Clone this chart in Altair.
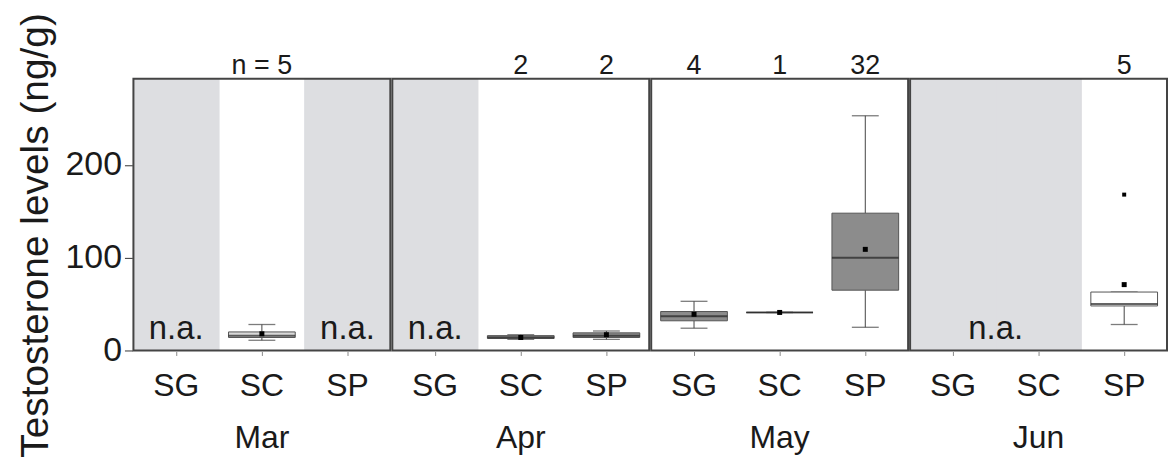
import altair as alt
import pandas as pd

# ---- data ----
months = ["Mar", "Apr", "May", "Jun"]
cats = ["SG", "SC", "SP"]

# cells that have data (month, category)
box_month = ["Mar", "Apr", "Apr", "May", "May", "May", "Jun"]
box_cat = ["SC", "SC", "SP", "SG", "SC", "SP", "SP"]
box_n = [5, 2, 2, 4, 1, 32, 5]
box_lo = [11, 12, 12, 24, 41, 25, 28]
box_q1 = [14, 13, 14, 32, 41, 65, 48]
box_med = [16, 14, 16, 37, 41, 100, 50]
box_q3 = [20, 16, 19, 42, 41, 148, 63]
box_hi = [28, 17, 21, 53, 41, 253, 63]
box_mean = [18, 14, 17, 39, 41, 109, 71]
box_shade = ["light", "dark", "dark", "dark", "dark", "dark", "white"]

# outliers
out_month = ["Jun"]
out_cat = ["SP"]
out_value = [168]

# cells without data ("n.a.")
na_month = ["Mar", "Mar", "Apr", "Jun", "Jun"]
na_cat = ["SG", "SP", "SG", "SG", "SC"]
na_label = ["n.a.", "n.a.", "n.a.", "", ""]
na_label_wide = ["", "", "", "n.a.", ""]   # label centred over two cells

Y_MAX = 293
Y_TITLE = "Testosterone levels (ng/g)"
FONT = "Liberation Sans"

rows = []
for i in range(len(box_month)):
    rows.append(dict(kind="box", month=box_month[i], cat=box_cat[i],
                     lo=box_lo[i], q1=box_q1[i], med=box_med[i], q3=box_q3[i],
                     hi=box_hi[i], mean=box_mean[i], shade=box_shade[i],
                     nlab=("n = %d" % box_n[i]) if i == 0 else str(box_n[i])))
for i in range(len(out_month)):
    rows.append(dict(kind="outlier", month=out_month[i], cat=out_cat[i], value=out_value[i]))
for i in range(len(na_month)):
    rows.append(dict(kind="na", month=na_month[i], cat=na_cat[i],
                     nalab=na_label[i], nawide=na_label_wide[i]))
for m in months:
    rows.append(dict(kind="frame", month=m, cat="SG"))
df = pd.DataFrame(rows)

W, H = 258, 273
BAND = W / 3
BOX_W = 67
CAP_W = 27

yscale = alt.Scale(domain=[0, Y_MAX], nice=False, zero=True)
yaxis = alt.Axis(values=[0, 100, 200], grid=False, domain=False, tickSize=8,
                 tickColor="#333", labelFontSize=34, labelPadding=3,
                 labelColor="#1a1a1a", labelFont=FONT, titleFont=FONT,
                 titleFontSize=39, titleFontWeight="normal", titleColor="#1a1a1a",
                 titlePadding=10, titleY=157)


def Y(field):
    return alt.Y(field, type="quantitative", scale=yscale, axis=yaxis, title=Y_TITLE)


X = alt.X("cat:N", sort=cats, title=None,
          scale=alt.Scale(domain=cats, paddingInner=0, paddingOuter=0),
          axis=alt.Axis(labelAngle=0, labelFontSize=32, labelFont=FONT,
                        labelColor="#1a1a1a", domain=False, tickSize=4,
                        tickColor="#888", labelPadding=15))

base = alt.Chart()
is_box = "datum.kind == 'box'"

na_bg = base.mark_rect(color="#dddee1", stroke="#dddee1", strokeWidth=1).encode(
    x=X, y=alt.datum(Y_MAX, type="quantitative", scale=yscale, axis=yaxis, title=Y_TITLE),
    y2=alt.datum(0)).transform_filter("datum.kind == 'na'")

wh_lo = base.mark_rule(color="#444", strokeWidth=1).encode(
    x=X, y=Y("lo"), y2="q1").transform_filter(is_box)
wh_hi = base.mark_rule(color="#444", strokeWidth=1).encode(
    x=X, y=Y("q3"), y2="hi").transform_filter(is_box)
cap_lo = base.mark_tick(color="#444", size=CAP_W, thickness=1.3).encode(
    x=X, y=Y("lo")).transform_filter(is_box)
cap_hi = base.mark_tick(color="#444", size=CAP_W, thickness=1.3).encode(
    x=X, y=Y("hi")).transform_filter(is_box)
box = base.mark_bar(size=BOX_W, stroke="#555", strokeWidth=1).encode(
    x=X, y=Y("q1"), y2="q3",
    color=alt.Color("shade:N", legend=None,
                    scale=alt.Scale(domain=["light", "dark", "white"],
                                    range=["#d9d9d9", "#8c8c8c", "#ffffff"]))
).transform_filter(is_box)
med = base.mark_tick(color="#222", size=BOX_W, thickness=2).encode(
    x=X, y=Y("med")).transform_filter(is_box)
mean = base.mark_square(color="#000", size=25, opacity=1).encode(
    x=X, y=Y("mean")).transform_filter(is_box)
outl = base.mark_square(color="#000", size=16, opacity=1).encode(
    x=X, y=Y("value")).transform_filter("datum.kind == 'outlier'")
nlab = base.mark_text(fontSize=27, font=FONT, color="#1a1a1a", baseline="alphabetic",
                      dy=-5).encode(
    x=X, y=alt.datum(Y_MAX), text="nlab:N").transform_filter(is_box)
nalab = base.mark_text(fontSize=33, font=FONT, color="#1a1a1a", baseline="alphabetic",
                       dy=-12).encode(
    x=X, y=alt.datum(0), text="nalab:N").transform_filter("datum.kind == 'na'")
nawide = base.mark_text(fontSize=33, font=FONT, color="#1a1a1a", baseline="alphabetic",
                        dy=-12, dx=BAND / 2).encode(
    x=X, y=alt.datum(0), text="nawide:N").transform_filter("datum.kind == 'na'")
frame = base.mark_rect(fillOpacity=0, stroke="#444", strokeWidth=2).encode(
    x=alt.value(0), x2=alt.value(W), y=alt.datum(Y_MAX), y2=alt.datum(0)
).transform_filter("datum.kind == 'frame'")

layered = alt.layer(na_bg, wh_lo, wh_hi, cap_lo, cap_hi, box, med, mean, outl,
                    nlab, nalab, nawide, frame).properties(
    width=W, height=H,
    view=alt.ViewBackground(stroke="transparent", strokeWidth=0))

chart = layered.facet(
    column=alt.Column("month:N", sort=months, title=None,
                      header=alt.Header(orient="bottom", labelOrient="bottom",
                                        labelFontSize=32, labelFont=FONT,
                                        labelColor="#1a1a1a", labelPadding=22)),
    data=df, spacing=0
).properties(
    padding={"left": 16, "top": 11, "right": 0, "bottom": 0}
).configure_view(
    stroke="transparent", strokeWidth=0
).configure(background="white")

chart.save("out.html", embed_options={"renderer": "svg", "actions": False})
